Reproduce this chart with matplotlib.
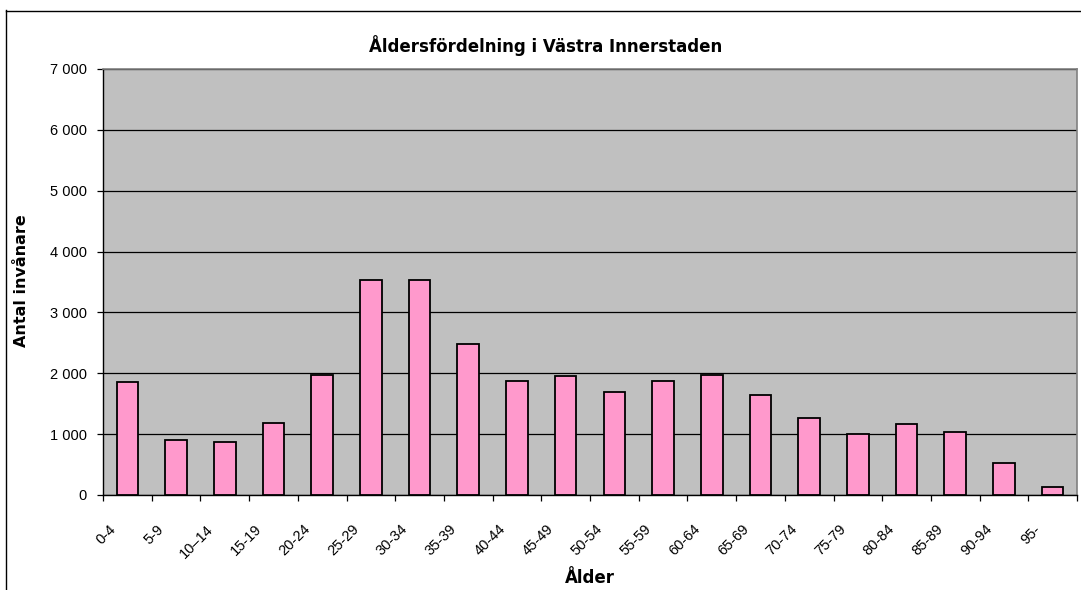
import matplotlib
matplotlib.use("Agg")
import matplotlib.pyplot as plt
import matplotlib.transforms as mtransforms
from matplotlib.lines import Line2D
from matplotlib.ticker import FuncFormatter, MultipleLocator
import numpy as np

categories = ["0-4", "5-9", "10\u201314", "15-19", "20-24", "25-29", "30-34", "35-39",
              "40-44", "45-49", "50-54", "55-59", "60-64", "65-69", "70-74", "75-79",
              "80-84", "85-89", "90-94", "95-"]
values = [1850, 900, 872, 1190, 1980, 3535, 3535, 2483, 1870, 1953,
          1686, 1870, 1980, 1642, 1265, 1003, 1167, 1031, 529, 136]
title = "Åldersfördelning i Västra Innerstaden"
ylabel = "Antal invånare"
xlabel = "Ålder"

plt.rcParams['font.family'] = ['Liberation Sans', 'DejaVu Sans']
bold_family = ['DejaVu Sans', 'Liberation Sans']

W, H = 1081, 590
fig = plt.figure(figsize=(W / 100, H / 100), dpi=100)
ax = fig.add_axes([103 / W, 1 - 495 / H, (1077 - 103) / W, (495 - 69) / H])
ax.set_facecolor("#C0C0C0")

x = np.arange(len(categories))
ax.bar(x, values, width=0.444, color="#FF99CC", edgecolor="black", linewidth=1.3, zorder=3)

ax.set_xlim(-0.5, len(categories) - 0.5)
ax.set_ylim(0, 7000)
ax.yaxis.set_major_locator(MultipleLocator(1000))
ax.yaxis.set_major_formatter(FuncFormatter(lambda v, p: f"{int(v):,}".replace(",", " ")))
ax.grid(axis="y", color="black", linewidth=0.9, zorder=1)
ax.set_axisbelow(True)

for s in ["top", "right"]:
    ax.spines[s].set_color("#808080")
    ax.spines[s].set_linewidth(1.2)
for s in ["left", "bottom"]:
    ax.spines[s].set_color("black")
    ax.spines[s].set_linewidth(1.0)

ax.tick_params(axis="y", direction="out", length=4.3, width=0.9, pad=7.5, labelsize=10.5, colors="black")
ax.set_xticks(x)
ax.set_xticklabels(categories)
ax.set_xticks(np.arange(len(categories) + 1) - 0.5, minor=True)
ax.tick_params(axis="x", which="major", length=0, pad=23, labelsize=10.5)
ax.tick_params(axis="x", which="minor", direction="out", length=4.3, width=0.9)
offset = mtransforms.ScaledTranslation(-14 / 100, 0, fig.dpi_scale_trans)
for lbl in ax.get_xticklabels():
    lbl.set_rotation(45)
    lbl.set_ha("right")
    lbl.set_va("center")
    lbl.set_rotation_mode("anchor")
    lbl.set_transform(lbl.get_transform() + offset)

fig.text(546 / W, 1 - 46 / H, title, ha="center", va="center", fontsize=12, fontweight="bold", family=bold_family)
fig.text(22 / W, 1 - 281 / H, ylabel, ha="center", va="center", rotation=90, fontsize=11.5, fontweight="bold", family=bold_family)
fig.text(590 / W, 1 - 578 / H, xlabel, ha="center", va="center", fontsize=12, fontweight="bold", family=bold_family)

fig.add_artist(Line2D([5.5 / W, 5.5 / W], [1 - 10 / H, 0], transform=fig.transFigure, color="black", linewidth=1.0))
fig.add_artist(Line2D([5.5 / W, 1], [1 - 10.5 / H, 1 - 10.5 / H], transform=fig.transFigure, color="black", linewidth=1.0))

fig.savefig("out.png", dpi=100)
